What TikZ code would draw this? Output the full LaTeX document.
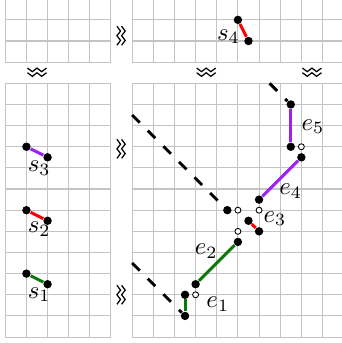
\documentclass[tikz,border=0pt]{standalone}
\definecolor{segred}{HTML}{FF0000}
\definecolor{seggreen}{HTML}{0A780A}
\definecolor{segviolet}{HTML}{A020F0}
\definecolor{gridgray}{HTML}{C4C4C4}

\begin{document}
\begin{tikzpicture}[x=3mm,y=3mm,
 gridline/.style={draw=gridgray,line width=0.45pt},
 dot/.style={circle,fill=black,inner sep=0pt,minimum size=3.4pt},
 hole/.style={circle,draw=black,fill=white,line width=0.35pt,
 inner sep=0pt,minimum size=2.4pt},
 seg/.style={line width=1.2pt},
 trail/.style={line width=1.2pt,dash pattern=on 4.3pt off 4.6pt},
 lab/.style={inner sep=0pt},
 brk/.pic={\draw[line width=0.5pt]
  (-0.45,0.22)--(-0.22,0.05)--(0,0.22)--(0.22,0.05)--(0.45,0.22)
  (-0.45,0)--(-0.22,-0.17)--(0,0)--(0.22,-0.17)--(0.45,0);}]
\useasboundingbox (-0.25,-0.28) rectangle (15.92,15.94);
% grid with the two cut bands
\draw[gridline,step=3mm] (0,0) grid (16,16);
\fill[white] (4.98,-1) rectangle (5.97,17);
\fill[white] (-1,12.03) rectangle (17,12.97);
\foreach \x in {1.5,9.5,14.5} \pic at (\x,12.5) {brk};
\foreach \y in {2,8.9,14.25} \pic[rotate=90] at (5.5,\y) {brk};

% left panel: the pieces
\node[dot] (s1a) at (1,3) {};
\node[dot] (s1b) at (2,2.5) {};
\node[dot] (s2a) at (1,6) {};
\node[dot] (s2b) at (2,5.5) {};
\node[dot] (s3a) at (1,9) {};
\node[dot] (s3b) at (2,8.5) {};
\draw[seg,seggreen] (s1a)--(s1b);
\draw[seg,segred] (s2a)--(s2b);
\draw[seg,segviolet] (s3a)--(s3b);
\node[lab] (s1) at (1.6,2.0) {$s_1$};
\node[lab] (s2) at (1.6,5.1) {$s_2$};
\node[lab] (s3) at (1.6,8.0) {$s_3$};

% top panel
\node[dot] (s4a) at (11,15) {};
\node[dot] (s4b) at (11.5,14) {};
\draw[seg,segred] (s4a)--(s4b);
\node[lab] (s4) at (10.55,14.2) {$s_4$};

% right panel: the assembled path
\coordinate (t1) at (6,3.5);
\coordinate (t2) at (6,10.5);
\coordinate (t3) at (12.5,12);
\node[dot] (e1a) at (8.5,1) {};
\node[dot] (e1b) at (8.5,2) {};
\node[hole] (h1) at (9,2) {};
\node[dot] (e2a) at (9,2.5) {};
\node[dot] (e2b) at (11,4.5) {};
\node[hole] (h2) at (11,5) {};
\node[dot] (e3a) at (11.5,5.5) {};
\node[dot] (e3b) at (12,5) {};
\node[hole] (h3) at (12,6) {};
\node[hole] (h4) at (11,6) {};
\node[dot] (t2e) at (10.5,6) {};
\node[dot] (e4a) at (12,6.5) {};
\node[dot] (e4b) at (14,8.5) {};
\node[hole] (h5) at (14,9) {};
\node[dot] (e5a) at (13.5,9) {};
\node[dot] (e5b) at (13.5,11) {};
\draw[trail] (t1)--(e1a);
\draw[trail] (t2)--(t2e);
\draw[trail] (t3)--(e5b);
\draw[seg,seggreen] (e1a)--(e1b);
\draw[seg,seggreen] (e2a)--(e2b);
\draw[seg,segred] (e3a)--(e3b);
\draw[seg,segviolet] (e4a)--(e4b);
\draw[seg,segviolet] (e5a)--(e5b);
\node[lab] (e1) at (10.05,1.55) {$e_1$};
\node[lab] (e2) at (9.5,4.05) {$e_2$};
\node[lab] (e3) at (12.75,5.6) {$e_3$};
\node[lab] (e4) at (13.5,6.9) {$e_4$};
\node[lab] (e5) at (14.55,9.95) {$e_5$};
\end{tikzpicture}
\end{document}
